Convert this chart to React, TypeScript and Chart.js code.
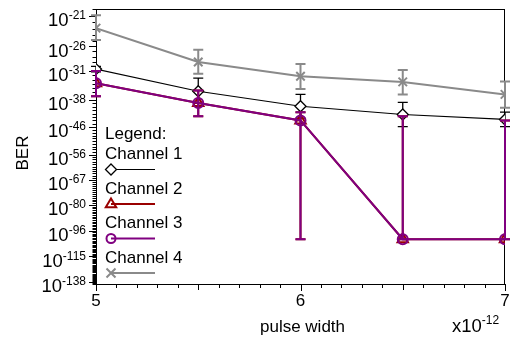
import React, { useEffect, useRef } from 'react';
import { Chart, registerables } from 'chart.js';

Chart.register(...registerables);

// x values (pulse width, units of 1e-12)
const pulseWidths = [5, 5.5, 6, 6.5, 7];

// BER = 10^-(value)
const ch1Exp = [30.6, 35.8, 39.8, 42.2, 43.7];
const ch1ErrTop = [30.0, 32.6, 36.6, 38.7, 41.5];
const ch1ErrBot = [31.2, 39.0, 43.3, 46.0, 46.0];

const ch2Exp = [33.8, 38.9, 44.0, 102, 102];
const ch2ErrTop = [31.0, 35.6, 41.5, 42.7, 44.0];
const ch2ErrBot = [37.1, 42.7, 102, 102, 102];

const ch3Exp = [33.8, 38.9, 44.0, 102, 102];
const ch3ErrTop = [31.0, 35.6, 41.5, 42.7, 44.0];
const ch3ErrBot = [37.1, 42.7, 102, 102, 102];

const ch4Exp = [22.9, 29.1, 32.2, 33.5, 36.6];
const ch4ErrTop = [20.9, 26.7, 29.5, 30.8, 33.4];
const ch4ErrBot = [24.9, 31.6, 35.2, 36.6, 40.2];

const yMajorExp = [21, 26, 31, 38, 46, 56, 67, 80, 96, 115, 138];
const yMinExp = 20;
const yMaxExp = 140;
const xTickLabels = [5, 6, 7];
const xMin = 5;
const xMax = 7;
const xScaleLabel = '-12';

const seriesNames = ['Channel 1', 'Channel 2', 'Channel 3', 'Channel 4'];
const seriesColors = ['#000000', '#990000', '#800080', '#8a8a8a'];

const FONT = "'Liberation Sans', Arial, Helvetica, sans-serif";

type Errs = { top: number[]; bot: number[] };
const errorSets: Errs[] = [
  { top: ch1ErrTop, bot: ch1ErrBot },
  { top: ch2ErrTop, bot: ch2ErrBot },
  { top: ch3ErrTop, bot: ch3ErrBot },
  { top: ch4ErrTop, bot: ch4ErrBot },
];
const errWidths = [1.3, 2, 2, 2];

function drawMarker(ctx: CanvasRenderingContext2D, idx: number, x: number, y: number) {
  ctx.save();
  ctx.strokeStyle = seriesColors[idx];
  ctx.beginPath();
  if (idx === 0) {
    const r = 5.5;
    ctx.lineWidth = 1.3;
    ctx.fillStyle = '#fff';
    ctx.moveTo(x, y - r);
    ctx.lineTo(x + r, y);
    ctx.lineTo(x, y + r);
    ctx.lineTo(x - r, y);
    ctx.closePath();
    ctx.fill();
    ctx.stroke();
  } else if (idx === 1) {
    const r = 5.5;
    ctx.lineWidth = 2;
    ctx.moveTo(x, y - r);
    ctx.lineTo(x + r * 0.95, y + r * 0.6);
    ctx.lineTo(x - r * 0.95, y + r * 0.6);
    ctx.closePath();
    ctx.stroke();
  } else if (idx === 2) {
    ctx.lineWidth = 2;
    ctx.arc(x, y, 4.5, 0, Math.PI * 2);
    ctx.stroke();
  } else {
    const r = 4.5;
    ctx.lineWidth = 2;
    ctx.moveTo(x - r, y - r);
    ctx.lineTo(x + r, y + r);
    ctx.moveTo(x + r, y - r);
    ctx.lineTo(x - r, y + r);
    ctx.stroke();
  }
  ctx.restore();
}

const decorPlugin = {
  id: 'decor',
  beforeDatasetsDraw(chart: any) {
    const ctx: CanvasRenderingContext2D = chart.ctx;
    const a = chart.chartArea;
    const xs = chart.scales.x;
    const ys = chart.scales.y;
    ctx.save();
    ctx.strokeStyle = '#000';
    ctx.lineWidth = 1;
    ctx.strokeRect(a.left + 0.5, a.top + 0.5, a.right - a.left - 1, a.bottom - a.top);
    ctx.beginPath();
    for (let n = yMinExp; n <= yMaxExp; n++) {
      const py = Math.round(ys.getPixelForValue(n)) + 0.5;
      const len = yMajorExp.includes(n) ? 7 : 3.5;
      ctx.moveTo(a.left, py);
      ctx.lineTo(a.left - len, py);
    }
    for (let i = xMin * 10; i <= xMax * 10; i++) {
      const px = Math.round(xs.getPixelForValue(i / 10)) + 0.5;
      const len = i % 10 === 0 ? 7 : i % 5 === 0 ? 6 : 4;
      ctx.moveTo(px, a.bottom);
      ctx.lineTo(px, a.bottom + len);
    }
    ctx.stroke();
    ctx.restore();
  },
  beforeDatasetDraw(chart: any, args: any) {
    const idx = args.index;
    const errs = errorSets[idx];
    if (!errs) return;
    const ctx: CanvasRenderingContext2D = chart.ctx;
    const xs = chart.scales.x;
    const ys = chart.scales.y;
    ctx.save();
    ctx.strokeStyle = seriesColors[idx];
    ctx.lineWidth = errWidths[idx];
    ctx.beginPath();
    pulseWidths.forEach((xv, i) => {
      const px = xs.getPixelForValue(xv);
      const y1 = ys.getPixelForValue(errs.top[i]);
      const y2 = ys.getPixelForValue(errs.bot[i]);
      ctx.moveTo(px, y1);
      ctx.lineTo(px, y2);
      ctx.moveTo(px - 5, y1);
      ctx.lineTo(px + 5, y1);
      ctx.moveTo(px - 5, y2);
      ctx.lineTo(px + 5, y2);
    });
    ctx.stroke();
    ctx.restore();
  },
  afterDraw(chart: any) {
    const ctx: CanvasRenderingContext2D = chart.ctx;
    const a = chart.chartArea;
    const xs = chart.scales.x;
    const ys = chart.scales.y;
    ctx.save();
    ctx.fillStyle = '#000';
    ctx.textBaseline = 'alphabetic';
    const mainFont = `18.5px ${FONT}`;
    const supFont = `12px ${FONT}`;
    yMajorExp.forEach((n) => {
      const py = ys.getPixelForValue(n);
      const sup = '-' + n;
      ctx.font = supFont;
      const w2 = ctx.measureText(sup).width;
      ctx.font = mainFont;
      const w1 = ctx.measureText('10').width;
      const right = 86;
      ctx.textAlign = 'left';
      ctx.fillText('10', right - w2 - w1, py + 10.5);
      ctx.font = supFont;
      ctx.fillText(sup, right - w2, py + 3.5);
    });
    ctx.font = `17px ${FONT}`;
    ctx.textAlign = 'center';
    xTickLabels.forEach((v) => {
      ctx.fillText(String(v), xs.getPixelForValue(v), 305.5);
    });
    ctx.fillText('pulse width', (a.left + a.right) / 2 + 2, 331.5);
    ctx.textAlign = 'left';
    ctx.font = mainFont;
    ctx.fillText('x10', 452, 331.5);
    const wx = ctx.measureText('x10').width;
    ctx.font = supFont;
    ctx.fillText(xScaleLabel, 452 + wx, 324);
    ctx.save();
    ctx.translate(28, 153);
    ctx.rotate(-Math.PI / 2);
    ctx.font = `17px ${FONT}`;
    ctx.textAlign = 'center';
    ctx.fillText('BER', 0, 0);
    ctx.restore();
    ctx.font = `17px ${FONT}`;
    ctx.textAlign = 'left';
    ctx.fillText('Legend:', 105, 139);
    seriesNames.forEach((name, i) => {
      const base = 159 + i * 34.5;
      ctx.fillStyle = '#000';
      ctx.fillText(name, 105, base);
      const ly = base + 10.5;
      ctx.save();
      ctx.strokeStyle = seriesColors[i];
      ctx.lineWidth = i === 0 ? 1.2 : 2;
      ctx.beginPath();
      ctx.moveTo(111, ly);
      ctx.lineTo(155, ly);
      ctx.stroke();
      ctx.restore();
      drawMarker(ctx, i, 111, ly);
    });
    ctx.restore();
  },
};

const expSeries = [ch1Exp, ch2Exp, ch3Exp, ch4Exp];
const pointStyles = ['rectRot', 'triangle', 'circle', 'crossRot'];
const pointRadii = [5.5, 6, 5, 6];
const lineWidths = [1.2, 2, 2, 2];
const fills = ['#ffffff', 'rgba(0,0,0,0)', 'rgba(0,0,0,0)', 'rgba(0,0,0,0)'];

export default function App() {
  const ref = useRef<HTMLCanvasElement | null>(null);
  useEffect(() => {
    document.body.style.margin = '0';
    if (!ref.current) return;
    const chart = new Chart(ref.current, {
      type: 'line',
      data: {
        datasets: seriesNames.map((name, i) => ({
          label: name,
          data: pulseWidths.map((x, j) => ({ x, y: expSeries[i][j] })),
          borderColor: seriesColors[i],
          backgroundColor: fills[i],
          borderWidth: lineWidths[i],
          pointStyle: pointStyles[i] as any,
          pointRadius: pointRadii[i],
          pointBorderWidth: i === 0 ? 1.3 : 2,
          pointBorderColor: seriesColors[i],
          pointBackgroundColor: fills[i],
          tension: 0,
          fill: false,
          order: 4 - i,
        })),
      },
      options: {
        responsive: false,
        animation: false,
        layout: { padding: { left: 96, top: 9, right: 4, bottom: 53 } },
        plugins: { legend: { display: false }, tooltip: { enabled: false } },
        scales: {
          x: { type: 'linear', min: xMin, max: xMax, display: false },
          y: { type: 'logarithmic', min: yMinExp, max: yMaxExp, reverse: true, display: false },
        },
      },
      plugins: [decorPlugin],
    });
    return () => chart.destroy();
  }, []);
  return (
    <div style={{ width: 513, height: 337 }}>
      <canvas ref={ref} width={513} height={337} />
    </div>
  );
}
